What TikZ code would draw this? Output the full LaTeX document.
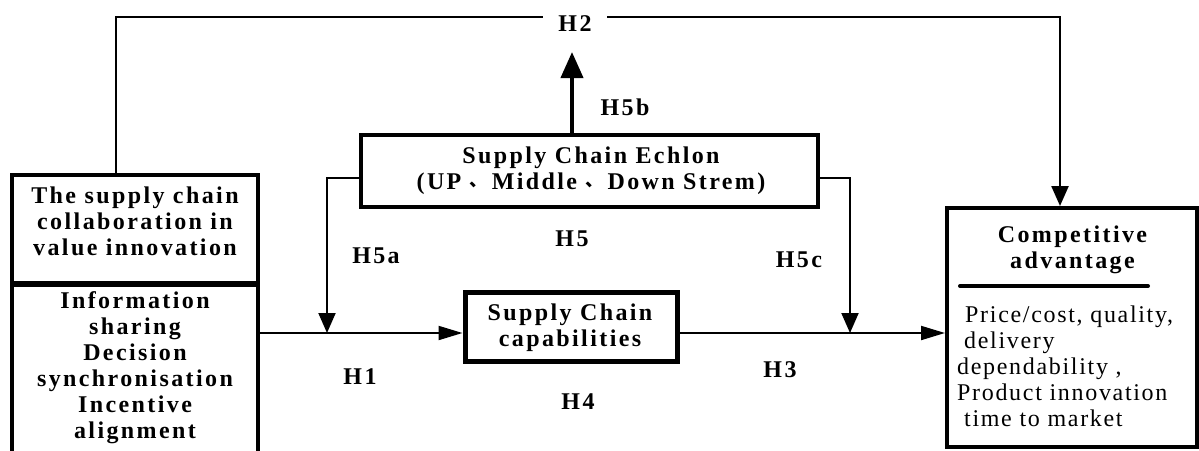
\documentclass[tikz,border=0pt]{standalone}
\usepackage{fontspec}
\setmainfont[LetterSpace=7, BoldFeatures={LetterSpace=10}]{Liberation Serif}
\newfontfamily\cjk{Noto Sans CJK SC}
\newcommand\dunhao{{\cjk\fontsize{18}{26}\selectfont\raisebox{3pt}{、}}}
\usetikzlibrary{arrows.meta}
\begin{document}
\begin{tikzpicture}[x=1pt, y=-1pt,
  every node/.style={inner sep=0pt, font=\fontsize{24}{26}\selectfont\bfseries},
  box/.style={draw, line width=4pt},
  txt/.style={align=center, anchor=north},
  hlabel/.style={anchor=base},
  link/.style={line width=2pt},
  arr/.style={link, -{Triangle[length=20pt, width=17pt]}},
  arrh/.style={link, -{Triangle[length=24pt, width=14pt]}}]
\useasboundingbox (0,0) rectangle (1199,450);

% boxes
\node[box, minimum width=246, minimum height=108] (lt) at (135,229) {};
\node[box, minimum width=246, minimum height=190, anchor=north] (lb) at (135,283) {};
\node[box, minimum width=457, minimum height=72] (ech) at (589.5,171) {};
\node[box, line width=5pt, minimum width=212, minimum height=69] (scc) at (571,326.5) {};
\node[box, minimum width=250, minimum height=239] (ca) at (1072,327.5) {};

% box texts
\node[txt] (ltx) at (135,186.6) {The supply chain\\collaboration in\\value innovation};
\node[txt] (lbx) at (135,291.6) {Information\\sharing\\Decision\\synchronisation\\Incentive\\alignment};
\node[txt] (echx) at (591,146.6) {Supply Chain Echlon\\(UP \dunhao\,Middle \dunhao\,Down Strem)};
\node[txt] (sccx) at (570,303.6) {Supply Chain\\capabilities};
\node[txt] (cax) at (1072.5,225.6) {Competitive\\advantage};
\draw[line width=4pt, line cap=round] (960,286) -- (1148,286);
\node[align=left, anchor=north west, font=\fontsize{24}{26}\selectfont\mdseries] (cab) at (957,305.6)
  {\hspace*{8pt}Price/cost, quality,\\\hspace*{7pt}delivery\\dependability ,\\Product innovation\\\hspace*{7pt}time to market};

% junctions on the main line
\coordinate (ja) at (327,333);
\coordinate (jc) at (850,333);
\coordinate (h5tip) at (572,52);

% connectors
\draw[link, line width=2.3pt, -{Triangle[length=20pt, width=17pt]}]
  ([xshift=-19pt]lt.north) -- ++(0,-156) -| ([xshift=-12pt]ca.north);
\draw[line width=4pt, -{Triangle[length=26pt, width=22pt]}] (ech.north -| h5tip) -- (h5tip);
\draw[arr] ([yshift=-7pt]ech.west) -| (ja);
\draw[arr] ([yshift=-7pt]ech.east) -| (jc);
\draw[arrh] (lb.east |- ja) -- (scc.west |- ja);
\draw[arrh] (scc.east |- jc) -- (ca.west |- jc);

% hypothesis labels
\node[hlabel, fill=white, inner xsep=15pt, inner ysep=3pt] (h2) at (575,31) {H2};
\node[hlabel] (h5b) at (625,115) {H5b};
\node[hlabel] (h5) at (572,246) {H5};
\node[hlabel] (h5a) at (376,263) {H5a};
\node[hlabel] (h5c) at (799,267) {H5c};
\node[hlabel] (h1) at (360,384) {H1};
\node[hlabel] (h4) at (578,409) {H4};
\node[hlabel] (h3) at (780,377) {H3};
\end{tikzpicture}
\end{document}
